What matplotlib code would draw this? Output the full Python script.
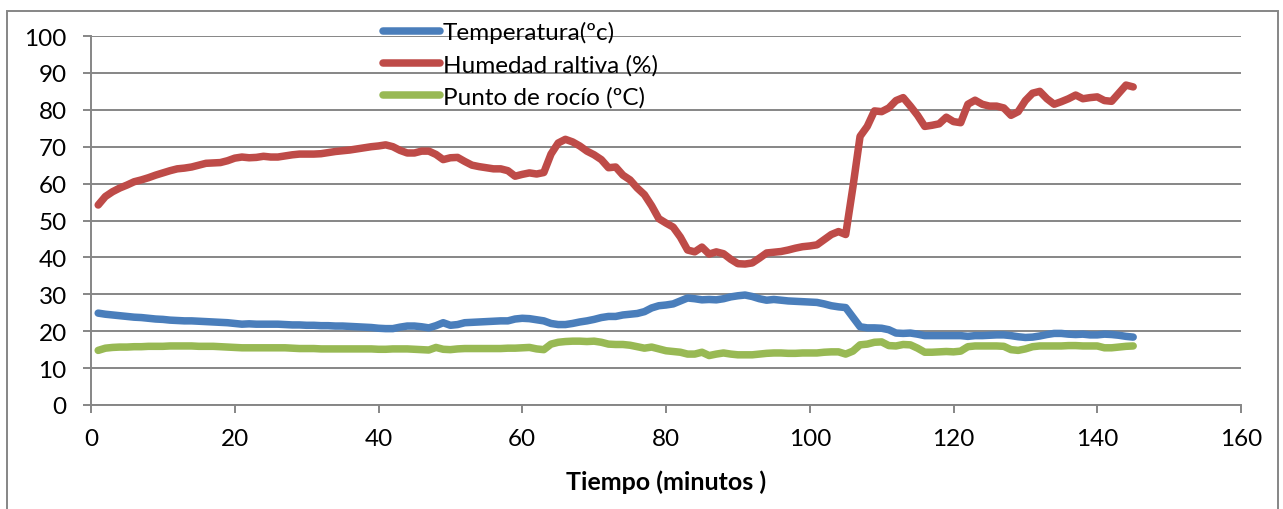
import numpy as np
import matplotlib.pyplot as plt
from matplotlib.patches import Rectangle

# Lecturas por minuto (1..145)
humedad = [
    54.2, 56.5, 57.8, 58.8, 59.6, 60.5, 61.0, 61.6, 62.3, 62.9,
    63.5, 64.0, 64.2, 64.5, 65.0, 65.5, 65.6, 65.7, 66.2, 66.9,
    67.2, 67.0, 67.1, 67.4, 67.2, 67.2, 67.5, 67.8, 68.0, 68.0,
    68.0, 68.1, 68.4, 68.7, 68.9, 69.1, 69.4, 69.7, 70.0, 70.2,
    70.5, 70.0, 69.0, 68.3, 68.3, 68.8, 68.8, 67.9, 66.5, 67.0,
    67.1, 66.0, 65.0, 64.6, 64.3, 64.0, 64.0, 63.5, 62.0, 62.5,
    62.9, 62.6, 63.0, 68.0, 71.0, 72.0, 71.3, 70.2, 68.8, 67.8,
    66.5, 64.3, 64.5, 62.3, 61.0, 58.8, 57.0, 54.0, 50.5, 49.3,
    48.2, 45.5, 42.0, 41.5, 42.8, 40.9, 41.5, 41.0, 39.5, 38.3,
    38.2, 38.5, 39.8, 41.2, 41.4, 41.6, 42.0, 42.5, 42.9, 43.1,
    43.4, 44.8, 46.2, 47.0, 46.2, 59.0, 72.8, 75.5, 79.7, 79.5,
    80.5, 82.5, 83.3, 81.0, 78.5, 75.5, 75.8, 76.2, 78.0, 76.8,
    76.5, 81.5, 82.6, 81.5, 81.0, 81.0, 80.5, 78.5, 79.5, 82.5,
    84.5, 85.0, 83.0, 81.5, 82.2, 83.0, 84.0, 83.0, 83.3, 83.5,
    82.5, 82.3, 84.5, 86.7, 86.2,
]

temperatura = [
    24.9, 24.6, 24.4, 24.2, 24.0, 23.8, 23.7, 23.5, 23.3, 23.2,
    23.0, 22.9, 22.8, 22.8, 22.7, 22.6, 22.5, 22.4, 22.3, 22.1,
    21.9, 22.0, 21.9, 21.9, 21.9, 21.9, 21.8, 21.7, 21.7, 21.6,
    21.6, 21.5, 21.5, 21.4, 21.4, 21.3, 21.2, 21.1, 21.0, 20.8,
    20.7, 20.7, 21.1, 21.4, 21.4, 21.2, 20.9, 21.5, 22.3, 21.6,
    21.8, 22.3, 22.4, 22.5, 22.6, 22.7, 22.8, 22.8, 23.3, 23.5,
    23.4, 23.1, 22.8, 22.1, 21.8, 21.8, 22.1, 22.5, 22.8, 23.2,
    23.7, 24.0, 24.0, 24.4, 24.6, 24.8, 25.3, 26.3, 26.9, 27.1,
    27.4, 28.2, 29.0, 28.8, 28.5, 28.6, 28.5, 28.8, 29.3, 29.6,
    29.8, 29.4, 28.8, 28.4, 28.6, 28.4, 28.2, 28.1, 28.0, 27.9,
    27.8, 27.4, 26.9, 26.6, 26.4, 23.8, 21.2, 20.9, 20.9, 20.8,
    20.4, 19.5, 19.4, 19.5, 19.2, 18.8, 18.8, 18.8, 18.8, 18.8,
    18.8, 18.6, 18.8, 18.8, 18.9, 19.0, 19.0, 18.8, 18.5, 18.3,
    18.4, 18.7, 19.1, 19.4, 19.4, 19.2, 19.1, 19.2, 19.0, 19.0,
    19.2, 19.1, 18.9, 18.6, 18.4,
]

rocio = [
    14.8, 15.4, 15.6, 15.7, 15.7, 15.8, 15.8, 15.9, 15.9, 15.9,
    16.0, 16.0, 16.0, 16.0, 15.9, 15.9, 15.9, 15.8, 15.7, 15.6,
    15.5, 15.5, 15.5, 15.5, 15.5, 15.5, 15.5, 15.4, 15.3, 15.3,
    15.3, 15.2, 15.2, 15.2, 15.2, 15.2, 15.2, 15.2, 15.2, 15.1,
    15.1, 15.2, 15.2, 15.2, 15.1, 15.0, 14.9, 15.6, 15.1, 15.0,
    15.2, 15.3, 15.3, 15.3, 15.3, 15.3, 15.3, 15.4, 15.4, 15.5,
    15.6, 15.2, 15.0, 16.5, 17.0, 17.2, 17.3, 17.3, 17.2, 17.3,
    17.0, 16.5, 16.4, 16.4, 16.2, 15.8, 15.4, 15.7, 15.2, 14.7,
    14.5, 14.3, 13.8, 13.8, 14.3, 13.4, 13.8, 14.1, 13.8, 13.6,
    13.6, 13.6, 13.8, 14.0, 14.1, 14.1, 14.0, 14.0, 14.1, 14.1,
    14.1, 14.3, 14.4, 14.4, 13.8, 14.6, 16.3, 16.5, 17.0, 17.1,
    16.1, 16.0, 16.4, 16.3, 15.4, 14.3, 14.3, 14.4, 14.5, 14.4,
    14.6, 15.8, 16.0, 16.0, 16.0, 16.0, 15.9, 15.0, 14.8, 15.2,
    15.8, 16.0, 16.0, 16.0, 16.0, 16.1, 16.1, 16.0, 16.0, 16.0,
    15.5, 15.5, 15.7, 15.9, 16.0,
]

minutos = np.arange(1, len(humedad) + 1)

plt.rcParams['font.family'] = ['Lato', 'DejaVu Sans']
gris = '#868686'

fig = plt.figure(figsize=(12.83, 5.10), dpi=100)
ax = fig.add_axes([91/1283, 1 - 406/510, (1241 - 91)/1283, (406 - 37)/510])

estilo = dict(lw=5.4, solid_capstyle='round', solid_joinstyle='round')
ax.plot(minutos, temperatura, color='#4A7EBB', label='Temperatura(ºc)', **estilo)
ax.plot(minutos, humedad, color='#BE4B48', label='Humedad raltiva (%)', **estilo)
ax.plot(minutos, rocio, color='#98B954', label='Punto de rocío (ºC)', **estilo)

ax.set_xlim(0, 160)
ax.set_ylim(0, 100)
ax.set_xticks(np.arange(0, 161, 20))
ax.set_yticks(np.arange(0, 101, 10))
ax.yaxis.grid(True, color=gris, lw=1.4)
ax.set_axisbelow(True)

for lado in ['top', 'right']:
    ax.spines[lado].set_visible(False)
for lado in ['left', 'bottom']:
    ax.spines[lado].set_color(gris)
    ax.spines[lado].set_linewidth(1.4)

ax.tick_params(axis='both', direction='out', width=1.4,
               length=5.5, labelsize=17.5, labelcolor='black', color=gris)
ax.tick_params(axis='y', pad=12)
ax.tick_params(axis='x', pad=11)

ax.set_xlabel('Tiempo (minutos )', fontsize=18, fontweight='bold', labelpad=15)

fig.legend(loc='upper left', bbox_to_anchor=(383/1283, 1 - 22/510),
           frameon=False, fontsize=17.5, borderpad=0, borderaxespad=0,
           handlelength=2.35, handletextpad=0.1, labelspacing=0.45,
           handleheight=0.7)

# marco exterior del grafico
fig.patches.append(Rectangle((7/1283, -2/510), (1278 - 7)/1283, (510 - 12 + 2)/510,
                             transform=fig.transFigure, fill=False,
                             edgecolor=gris, lw=1.4))

fig.savefig('out.png', dpi=100)
